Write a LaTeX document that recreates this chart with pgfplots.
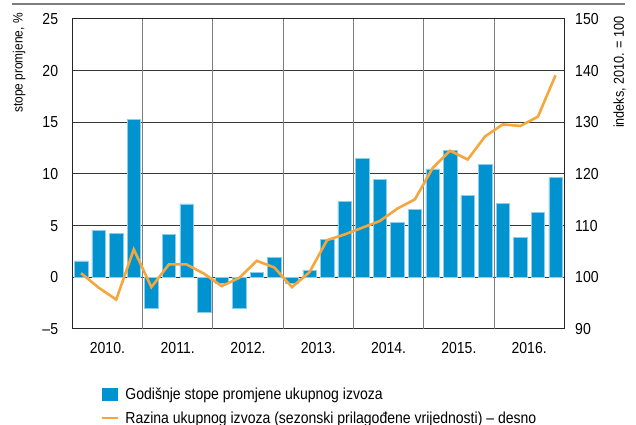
\documentclass[border=0pt]{standalone}
\usepackage{fontspec}
\setmainfont{Liberation Sans}[FakeStretch=0.88]
\usepackage{pgfplots}
\usepackage{pgfplotstable}
\pgfplotsset{compat=1.18}
\definecolor{barblue}{RGB}{0,147,208}
\definecolor{lineor}{RGB}{245,166,60}
\definecolor{gridv}{RGB}{125,125,125}
\definecolor{gridh}{RGB}{55,55,55}

\pgfplotstableread{
x y
0.5 1.6
1.5 4.55
2.5 4.25
3.5 15.3
4.5 -2.95
5.5 4.15
6.5 7.1
7.5 -3.4
8.5 -0.55
9.5 -3.0
10.5 0.45
11.5 1.95
12.5 -0.6
13.5 0.7
14.5 3.7
15.5 7.35
16.5 11.5
17.5 9.45
18.5 5.35
19.5 6.6
20.5 10.5
21.5 12.25
22.5 7.9
23.5 10.9
24.5 7.15
25.5 3.9
26.5 6.25
27.5 9.65
}\bars

\pgfplotstableread{
x y
0.5 100.8
1.5 98.0
2.5 95.7
3.5 105.4
4.5 98.1
5.5 102.5
6.5 102.5
7.5 100.7
8.5 98.3
9.5 99.9
10.5 103.2
11.5 101.9
12.5 98.1
13.5 101.0
14.5 107.2
15.5 108.3
16.5 109.6
17.5 110.9
18.5 113.3
19.5 115.1
20.5 121.1
21.5 124.5
22.5 122.8
23.5 127.3
24.5 129.6
25.5 129.3
26.5 131.1
27.5 139.1
}\level

\newcommand\tickfont{\fontsize{16}{18}\selectfont}
\newcommand\labfontL{\fontsize{13.6}{15}\selectfont}
\newcommand\labfontR{\fontsize{14.4}{16}\selectfont}

\begin{document}
\begin{tikzpicture}
\path[use as bounding box] (0bp,0bp) rectangle (636bp,425bp);
\draw[gridv, line width=1.2bp] (12bp,421bp) -- (625bp,421bp);
\begin{axis}[
  at={(72.3bp,96bp)}, anchor=south west,
  scale only axis, width=492bp, height=310bp,
  xmin=0, xmax=28, ymin=-5, ymax=25,
  ytick={-5,0,5,10,15,20,25},
  yticklabels={\textendash5,0,5,10,15,20,25},
  xtick={2,6,10,14,18,22,26},
  xticklabels={2010.,2011.,2012.,2013.,2014.,2015.,2016.},
  extra x ticks={4,8,12,16,20,24},
  extra x tick labels={},
  extra x tick style={xmajorgrids=true, major tick length=0pt},
  ymajorgrids=true,
  every axis x grid/.append style={gridv, line width=1bp},
  every axis y grid/.append style={gridh, line width=1bp},
  major tick length=0pt,
  axis line style={black!85, line width=1bp},
  tick label style={font=\tickfont, inner sep=0pt},
  /pgf/number format/assume math mode=true,
  yticklabel shift=14bp,
  xticklabel shift=13.5bp,
  ylabel={stope promjene, \%},
  ylabel style={at={(axis description cs:-0.1083,0.858)}, anchor=center, rotate=0, font=\labfontL, inner sep=0pt},
  legend style={at={(axis description cs:0.0577,-0.19)}, anchor=north west, draw=none, fill=none,
     inner sep=0pt, outer sep=0pt, font=\tickfont, row sep=10.5bp,
     nodes={inner sep=0pt},
     /tikz/every odd column/.append style={column sep=6.3bp}},
  legend cell align=left,
]
\addplot[ybar, bar width=0.76, fill=barblue, draw=barblue!45!white, line width=0.5bp, forget plot] table[x=x,y=y] {\bars};
\addlegendimage{legend image code/.code={\fill[barblue] (0bp,-6.15bp) rectangle (15.3bp,6.15bp);}}
\addlegendentry{Godišnje stope promjene ukupnog izvoza}
\addlegendimage{legend image code/.code={\draw[lineor, line width=2.4bp] (0bp,0bp) -- (16bp,0bp);}}
\addlegendentry{Razina ukupnog izvoza (sezonski prilagođene vrijednosti) – desno}
\end{axis}
\begin{axis}[
  at={(72.3bp,96bp)}, anchor=south west,
  scale only axis, width=492bp, height=310bp,
  xmin=0, xmax=28, ymin=90, ymax=150,
  axis y line*=right, axis x line=none,
  ytick={90,100,110,120,130,140,150},
  major tick length=0pt,
  axis line style={black!85, line width=1bp},
  tick label style={font=\tickfont, inner sep=0pt},
  /pgf/number format/assume math mode=true,
  yticklabel shift=10.7bp,
  ylabel={indeks, 2010. = 100},
  ylabel style={at={(axis description cs:1.1122,0.829)}, anchor=center, rotate=0, font=\labfontR, inner sep=0pt},
]
\addplot[lineor, line width=2.6bp] table[x=x,y=y] {\level};
\end{axis}
\end{tikzpicture}
\end{document}
